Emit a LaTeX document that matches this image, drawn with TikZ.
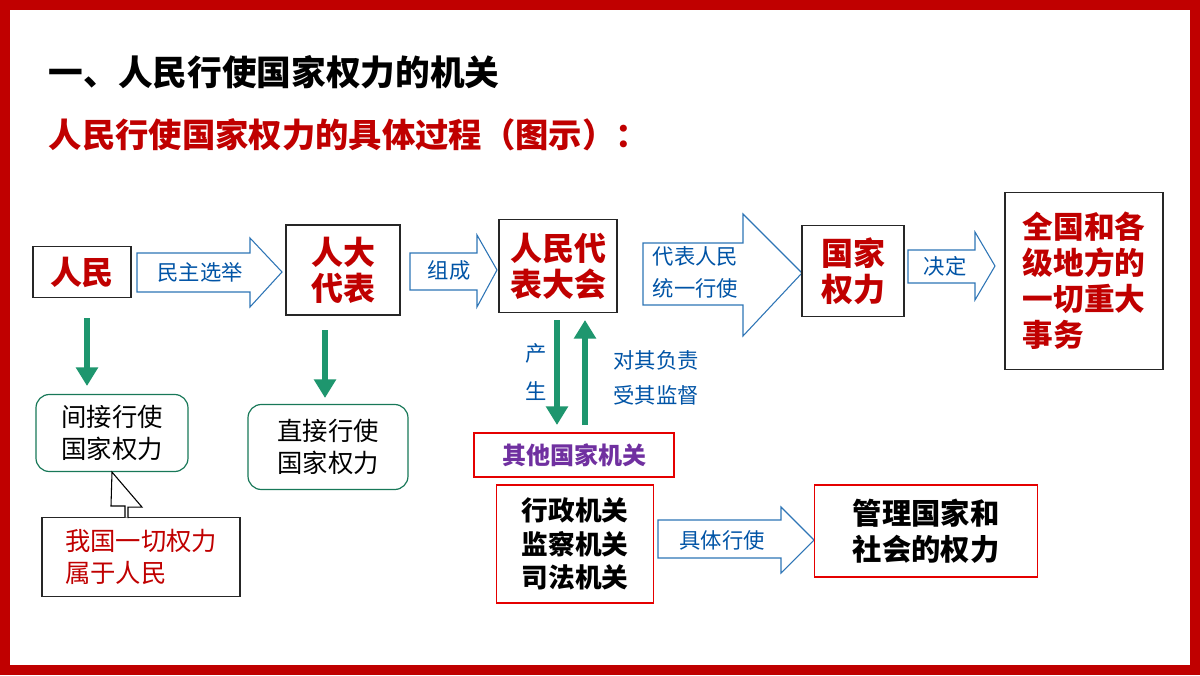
\documentclass[tikz,border=0pt]{standalone}
\usepackage{fontspec}
\usetikzlibrary{arrows.meta}
\newfontfamily\cjk{Noto Sans CJK SC}
\newcommand\cjkb{\cjk\bfseries}
\definecolor{dred}{RGB}{192,0,0}
\definecolor{ablue}{RGB}{46,117,182}
\definecolor{tblue}{RGB}{0,84,166}
\definecolor{tgreen}{RGB}{30,150,110}
\definecolor{purp}{RGB}{112,48,160}
\begin{document}
\begin{tikzpicture}[x=0.75pt,y=-0.75pt,
  bbox/.style={draw=black!85,line width=0.8pt,inner sep=0pt},
  rbox/.style={draw=red!90!black,line width=0.8pt},
  gbox/.style={draw=tgreen!80!black,line width=0.9pt,rounded corners=10pt},
  barr/.style={draw=ablue,line width=0.8pt,fill=white},
  garr/.style={draw=tgreen,line width=4pt,-{Triangle[length=14pt,width=16pt]}},
  btxt/.style={text=tblue,font=\cjk\fontsize{16}{20}\selectfont,align=left},
  rt/.style={text=dred,font=\cjkb\fontsize{24}{27}\selectfont,align=center}]
\fill[dred] (0,0) rectangle (1200,675);
\fill[white] (10,10) rectangle (1190,665);
\useasboundingbox (0,0) rectangle (1200,675);
\node[anchor=west,font=\cjkb\fontsize{26}{30}\selectfont] (t1) at (44,72) {一、人民行使国家权力的机关};
\node[anchor=west,text=dred,font=\cjkb\fontsize{25}{30}\selectfont] (t2) at (44,135) {人民行使国家权力的具体过程（图示）：};
% block arrows
\draw[barr] (137,253)--(250,253)--(250,238)--(282,272)--(250,307)--(250,292)--(137,292)--cycle;
\node[btxt] (a1) at (200,272) {民主选举};
\draw[barr] (410,253)--(477,253)--(477,235)--(497,270)--(477,307)--(477,290)--(410,290)--cycle;
\node[btxt] (a2) at (449,270) {组成};
\draw[barr] (643,243)--(743,243)--(743,214)--(802,273)--(743,336)--(743,305)--(643,305)--cycle;
\node[btxt,anchor=west,font=\cjk\fontsize{16}{24}\selectfont] (a3) at (648,272) {代表人民\\统一行使};
\draw[barr] (908,250)--(975,250)--(975,232)--(995,266)--(975,300)--(975,283)--(908,283)--cycle;
\node[btxt] (a4) at (945,266) {决定};
\draw[barr] (658,520)--(781,520)--(781,507)--(814,540)--(781,573)--(781,558)--(658,558)--cycle;
\node[btxt] (a5) at (722,540) {具体行使};
% boxes
\node[bbox,minimum width=98pt*0.75,minimum height=51pt*0.75,rt] (rm) at (82,272) {人民};
\node[bbox,minimum width=114pt*0.75,minimum height=90pt*0.75,rt] (rd) at (343,270) {人大\\代表};
\node[bbox,minimum width=118pt*0.75,minimum height=93pt*0.75,rt] (rdh) at (558,266) {人民代\\表大会};
\node[bbox,minimum width=102pt*0.75,minimum height=91pt*0.75,rt] (gj) at (853,271) {国家\\权力};
\node[bbox,minimum width=158pt*0.75,minimum height=177pt*0.75,rt,font=\cjkb\fontsize{23}{27}\selectfont,align=left] (qg) at (1084,281) {全国和各\\级地方的\\一切重大\\事务\phantom{地方}};
\node[gbox,minimum width=152pt*0.75,minimum height=77pt*0.75,font=\cjk\fontsize{19}{24}\selectfont,align=center] (jj) at (112,433) {间接行使\\国家权力};
\node[gbox,minimum width=160pt*0.75,minimum height=85pt*0.75,font=\cjk\fontsize{19}{24}\selectfont,align=center] (zj) at (328,447) {直接行使\\国家权力};
\node[bbox,minimum width=198pt*0.75,minimum height=79pt*0.75,text=dred,font=\cjk\fontsize{19}{24}\selectfont,align=left] (wg) at (141,557) {我国一切权力\\属于人民\phantom{一切}};
\node[rbox,minimum width=200pt*0.75,minimum height=44pt*0.75,text=purp,font=\cjkb\fontsize{18}{22}\selectfont] (qt) at (574,455) {其他国家机关};
\node[rbox,minimum width=157pt*0.75,minimum height=118pt*0.75,font=\cjkb\fontsize{20}{25}\selectfont,align=left] (xz) at (575,544) {行政机关\\监察机关\\司法机关};
\node[rbox,minimum width=223pt*0.75,minimum height=92pt*0.75,font=\cjkb\fontsize{22}{27}\selectfont,align=center] (gl) at (926,531) {管理国家和\\社会的权力};
% hollow up arrow
\draw[line width=0.8pt,fill=white] (wg.north) ++(-16,0) -- ++(0,-11) -- ++(-14,0) -- (jj.south) -- ++(30,35) -- ++(-14,0) -- ++(0,11);
% green arrows
\coordinate (g1s) at (87,318); \coordinate (g1e) at (87,386);
\draw[garr] (g1s) -- (g1e);
\coordinate (g2s) at (325,330); \coordinate (g2e) at (325,398);
\draw[garr] (g2s) -- (g2e);
\coordinate (g3s) at (557,320); \coordinate (g3e) at (557,425);
\draw[garr] (g3s) -- (g3e);
\coordinate (g4s) at (585,425); \coordinate (g4e) at (585,320);
\draw[garr] (g4s) -- (g4e);
\node[btxt,font=\cjk\fontsize{16}{28}\selectfont,align=center] (cs) at (536,372) {产\\生};
\node[btxt,font=\cjk\fontsize{16}{26}\selectfont] (dq) at (656,378) {对其负责\\受其监督};
\end{tikzpicture}
\end{document}
